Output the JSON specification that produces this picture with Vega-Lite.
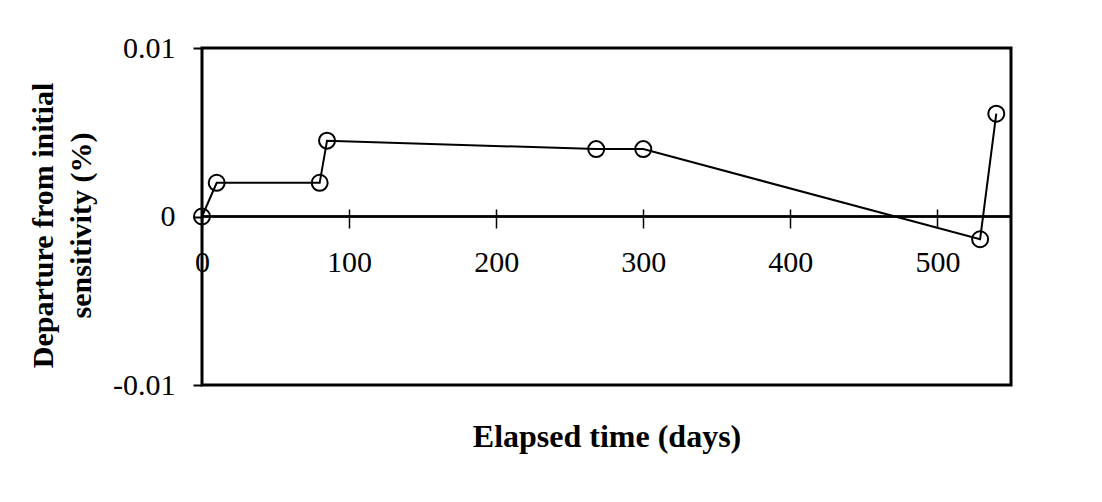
{
  "$schema": "https://vega.github.io/schema/vega-lite/v6.json",
  "width": 809,
  "height": 337,
  "autosize": "none",
  "padding": {"left": 202, "top": 48, "right": 91, "bottom": 117},
  "background": "white",
  "config": {
    "view": {"stroke": "black", "strokeWidth": 3},
    "font": "Liberation Serif"
  },
  "data": {
    "values": [
      {"days": 0, "dep": 0},
      {"days": 10, "dep": 0.002},
      {"days": 80, "dep": 0.002},
      {"days": 85, "dep": 0.0045},
      {"days": 268, "dep": 0.004},
      {"days": 300, "dep": 0.004},
      {"days": 529, "dep": -0.00135},
      {"days": 540, "dep": 0.0061}
    ]
  },
  "layer": [
    {
      "mark": {"type": "rule", "color": "black", "strokeWidth": 1.5},
      "encoding": {"y": {"datum": 0, "type": "quantitative"}}
    },
    {
      "mark": {"type": "line", "color": "black", "strokeWidth": 2},
      "encoding": {
        "x": {
          "field": "days",
          "type": "quantitative",
          "scale": {"domain": [0, 550], "nice": false, "zero": false},
          "axis": {
            "values": [0, 100, 200, 300, 400, 500],
            "offset": -176,
            "tickSize": 19,
            "domain": false,
            "grid": false,
            "tickColor": "black",
            "tickWidth": 1.5,
            "labelFont": "Liberation Serif",
            "labelFontSize": 30,
            "labelColor": "black",
            "labelPadding": 19,
            "labelFlush": false,
            "title": "Elapsed time (days)",
            "titleFont": "Liberation Serif",
            "titleFontSize": 32,
            "titleFontWeight": "bold",
            "titleColor": "black",
            "titlePadding": 144
          }
        },
        "y": {
          "field": "dep",
          "type": "quantitative",
          "scale": {"domain": [-0.01, 0.01], "nice": false},
          "axis": {
            "values": [-0.01, 0, 0.01],
            "labelExpr": "toString(datum.value)",
            "domain": false,
            "grid": false,
            "tickSize": 9,
            "tickColor": "black",
            "tickWidth": 2,
            "labelFont": "Liberation Serif",
            "labelFontSize": 30,
            "labelColor": "black",
            "labelPadding": 18,
            "title": ["Departure from initial", "sensitivity (%)"],
            "titleFont": "Liberation Serif",
            "titleFontSize": 30,
            "titleFontWeight": "bold",
            "titleColor": "black",
            "titleLineHeight": 38,
            "titlePadding": 16,
            "titleY": 177
          }
        }
      }
    },
    {
      "mark": {"type": "point", "shape": "circle", "filled": false, "color": "black", "size": 256, "strokeWidth": 2, "opacity": 1},
      "encoding": {
        "x": {"field": "days", "type": "quantitative"},
        "y": {"field": "dep", "type": "quantitative"}
      }
    }
  ]
}
